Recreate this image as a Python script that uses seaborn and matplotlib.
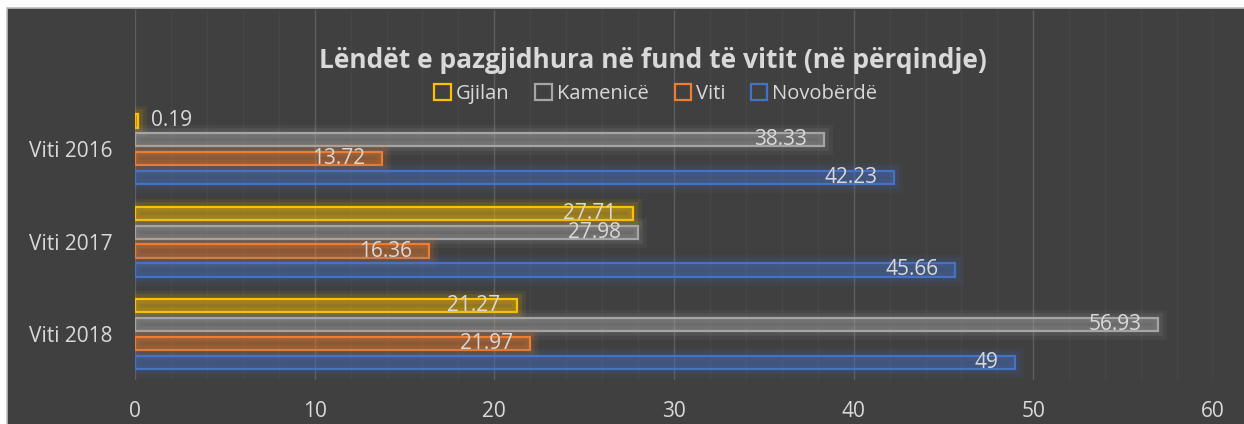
import numpy as np
import pandas as pd
import matplotlib
matplotlib.use("Agg")
import matplotlib.pyplot as plt
import matplotlib.patheffects as pe
from matplotlib.patches import Patch, Rectangle
from matplotlib.ticker import MultipleLocator
from matplotlib.colors import to_rgba
import seaborn as sns

# data
years = ["Viti 2016", "Viti 2017", "Viti 2018"]
regions = ["Gjilan", "Kamenicë", "Viti", "Novobërdë"]
gjilan = [0.19, 27.71, 21.27]
kamenice = [38.33, 27.98, 56.93]
viti = [13.72, 16.36, 21.97]
novoberde = [42.23, 45.66, 49]
colors = ["#FFC000", "#A5A5A5", "#ED7D31", "#4472C4"]

BG = "#404040"
TXT = "#D9D9D9"

df = pd.DataFrame({
    "Viti": years * 4,
    "Komuna": [r for r in regions for _ in years],
    "Vlera": gjilan + kamenice + viti + novoberde,
})

sns.set_style("dark")
plt.rcParams["font.family"] = ["Open Sans", "DejaVu Sans"]

fig = plt.figure(figsize=(12.44, 4.24), dpi=100, facecolor="white")
# dark chart area with thin grey frame
fig.patches.append(Rectangle((7 / 1244, -0.01), 1.1, 1 - 7.5 / 424 + 0.01,
                             transform=fig.transFigure, facecolor=BG,
                             edgecolor="#BFBFBF", linewidth=1.2, zorder=-10))

ax = fig.add_axes([135 / 1244, 1 - 380 / 424, 1078 / 1244, 370 / 424])
ax.set_facecolor("none")

sns.barplot(data=df, y="Viti", x="Vlera", hue="Komuna", order=years,
            hue_order=regions, palette=colors, orient="h", width=0.82,
            gap=0.3, ax=ax, legend=False)

for cont, col in zip(ax.containers, colors):
    for bar in cont:
        bar.set_facecolor(to_rgba(col, 0.25))
        bar.set_edgecolor(col)
        bar.set_linewidth(1.6)
        bar.set_path_effects([
            pe.Stroke(linewidth=12, foreground=col, alpha=0.08),
            pe.Stroke(linewidth=7, foreground=col, alpha=0.12),
            pe.Normal(),
        ])
        w = bar.get_width()
        yc = bar.get_y() + bar.get_height() / 2
        if w < 3:
            ax.annotate(f"{w:.2f}", (w, yc), xytext=(9, 0), textcoords="offset points",
                        ha="left", va="center", color=TXT, fontsize=15)
        else:
            txt = f"{int(w)}" if w == int(w) else f"{w:.2f}"
            ax.annotate(txt, (w, yc), xytext=(-12, 0), textcoords="offset points",
                        ha="right", va="center", color=TXT, fontsize=15)

ax.set_xlim(0, 60)
ax.set_ylim(2.5, -1.51)
ax.xaxis.set_major_locator(MultipleLocator(10))
ax.xaxis.set_minor_locator(MultipleLocator(2))
ax.grid(False)
ax.grid(True, axis="x", which="major", color="#5E5E5E", linewidth=1)
ax.grid(True, axis="x", which="minor", color="#464646", linewidth=1)
ax.set_axisbelow(True)
for s in ax.spines.values():
    s.set_visible(False)
ax.set_xlabel("")
ax.set_ylabel("")
ax.set_yticks(range(len(years)))
ax.set_yticklabels(years)
ax.tick_params(axis="both", which="both", length=0, colors=TXT, labelsize=15)
ax.tick_params(axis="x", pad=15)
ax.tick_params(axis="y", pad=16)

fig.text(653 / 1244, 1 - 61 / 424, "Lëndët e pazgjidhura në fund të vitit (në përqindje)",
         ha="center", va="center", color=TXT, fontsize=19, fontweight="bold")

handles = [Patch(facecolor="none", edgecolor=c, linewidth=1.6, label=r)
           for r, c in zip(regions, colors)]
fig.legend(handles=handles, loc="center", bbox_to_anchor=(656 / 1244, 1 - 94 / 424),
           ncol=4, frameon=False, labelcolor=TXT, fontsize=14.5,
           handlelength=0.8, handleheight=0.8, handletextpad=0.25, columnspacing=1.3)

fig.savefig("out.png", dpi=100, facecolor=fig.get_facecolor())
